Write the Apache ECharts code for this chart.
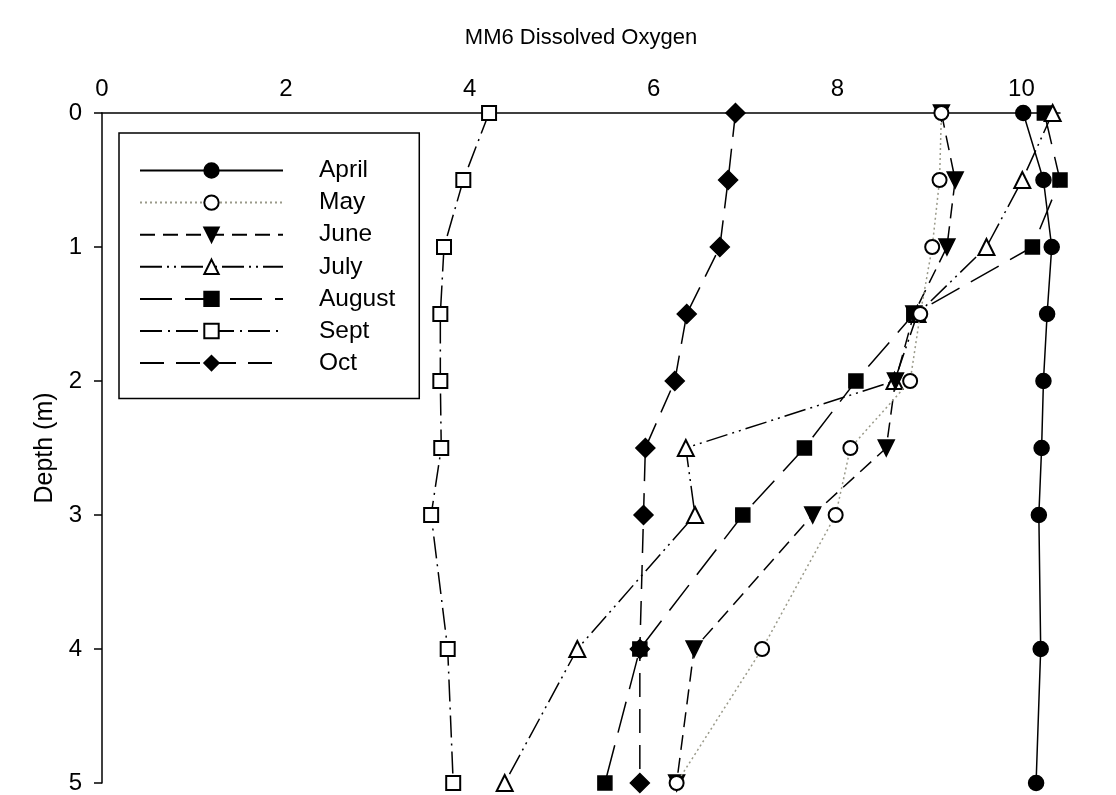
<!DOCTYPE html>
<html>
<head>
<meta charset="utf-8">
<title>MM6 Dissolved Oxygen</title>
<script src="https://cdn.jsdelivr.net/npm/echarts@6/dist/echarts.min.js"></script>
<style>
  html, body { margin: 0; padding: 0; background: #fff; }
  #chart { width: 1116px; height: 795px; }
</style>
</head>
<body>
<div id="chart"></div>
<script>
// Sampling depths (m), shared by every monthly profile
const depths = [0, 0.5, 1, 1.5, 2, 2.5, 3, 4, 5];

// Dissolved oxygen (mg/L) at each depth, one array per month
const april  = [10.02, 10.24, 10.33, 10.28, 10.24, 10.22, 10.19, 10.21, 10.16];
const may    = [9.13, 9.11, 9.03, 8.90, 8.79, 8.14, 7.98, 7.18, 6.25];
const june   = [9.13, 9.28, 9.19, 8.83, 8.63, 8.53, 7.73, 6.44, 6.25];
const july   = [10.34, 10.01, 9.62, 8.87, 8.62, 6.35, 6.45, 5.17, 4.38];
const august = [10.25, 10.42, 10.12, 8.83, 8.20, 7.64, 6.97, 5.85, 5.47];
const sept   = [4.21, 3.93, 3.72, 3.68, 3.68, 3.69, 3.58, 3.76, 3.82];
const oct    = [6.89, 6.81, 6.72, 6.36, 6.23, 5.91, 5.89, 5.85, 5.85];

const monthNames = ['April', 'May', 'June', 'July', 'August', 'Sept', 'Oct'];
const monthValues = [april, may, june, july, august, sept, oct];

// Axis ranges
const doMin = 0, doMax = 10.42, doStep = 2;
const depthMin = 0, depthMax = 5, depthStep = 1;

const FONT = "'Liberation Sans', Arial, sans-serif";

// Marker and line look for each month
const looks = [
  { symbol: 'circle',        size: 15, rotate: 0,   dash: 'solid',              color: '#000' },
  { symbol: 'emptyCircle',   size: 14, rotate: 0,   dash: [2, 3],               color: '#9a9a8a' },
  { symbol: 'triangle',      size: 16, rotate: 180, dash: [15, 8],              color: '#000' },
  { symbol: 'emptyTriangle', size: 16, rotate: 0,   dash: [22, 5, 2, 5, 2, 5],  color: '#000' },
  { symbol: 'rect',          size: 14, rotate: 0,   dash: [32, 13],             color: '#000' },
  { symbol: 'emptyRect',     size: 14, rotate: 0,   dash: [22, 6, 2, 6],        color: '#000' },
  { symbol: 'diamond',       size: 19, rotate: 0,   dash: [24, 12],             color: '#000' }
];

const series = monthNames.map((name, i) => ({
  name: name,
  type: 'line',
  data: monthValues[i].map((v, k) => [v, depths[k]]),
  symbol: looks[i].symbol,
  symbolSize: looks[i].size,
  symbolRotate: looks[i].rotate,
  clip: false,
  itemStyle: { color: '#000', borderColor: '#000', borderWidth: 1.5 },
  lineStyle: { color: looks[i].color, width: 1.5, type: looks[i].dash },
  emphasis: { disabled: true },
  z: 10 - i
}));

const chart = echarts.init(document.getElementById('chart'), null, { renderer: 'canvas' });
chart.setOption({
  animation: false,
  backgroundColor: '#fff',
  title: {
    text: 'MM6 Dissolved Oxygen',
    left: 581,
    top: 27,
    padding: 0,
    textAlign: 'center',
    textStyle: { fontFamily: FONT, fontSize: 22, fontWeight: 'normal', color: '#000' }
  },
  legend: {
    orient: 'vertical',
    left: 119,
    top: 133,
    padding: [25, 24, 23, 20],
    itemWidth: 143,
    itemHeight: 18,
    itemGap: 7.1,
    borderColor: '#000',
    borderWidth: 1.5,
    backgroundColor: '#fff',
    selectedMode: false,
    data: monthNames,
    textStyle: { fontFamily: FONT, fontSize: 24.5, color: '#000', padding: [0, 0, 0, 31] }
  },
  grid: { left: 102, right: 56, top: 113, bottom: 12, containLabel: false },
  xAxis: {
    type: 'value',
    position: 'top',
    min: doMin,
    max: doMax,
    interval: doStep,
    splitLine: { show: false },
    axisTick: { show: false },
    axisLine: { show: true, lineStyle: { color: '#000', width: 1.5 } },
    axisLabel: { margin: 12, fontFamily: FONT, fontSize: 24, color: '#000', showMaxLabel: false }
  },
  yAxis: {
    type: 'value',
    inverse: true,
    min: depthMin,
    max: depthMax,
    interval: depthStep,
    name: 'Depth (m)',
    nameLocation: 'middle',
    nameGap: 42,
    nameTextStyle: { fontFamily: FONT, fontSize: 25, color: '#000' },
    splitLine: { show: false },
    axisTick: { show: true, inside: false, length: 8, lineStyle: { color: '#000', width: 1.5 } },
    axisLine: { show: true, onZero: false, lineStyle: { color: '#000', width: 1.5 } },
    axisLabel: { margin: 20, fontFamily: FONT, fontSize: 24, color: '#000' }
  },
  series: series
});
</script>
</body>
</html>
